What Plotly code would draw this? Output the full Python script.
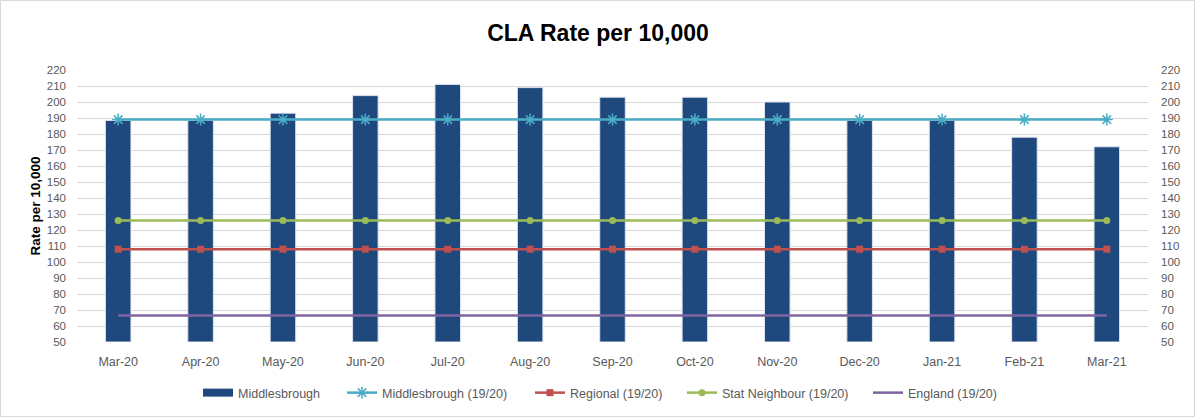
import plotly.graph_objects as go

months = ["Mar-20", "Apr-20", "May-20", "Jun-20", "Jul-20", "Aug-20", "Sep-20",
          "Oct-20", "Nov-20", "Dec-20", "Jan-21", "Feb-21", "Mar-21"]
middlesbrough = [188.5, 188.5, 193, 204, 211, 209, 203, 203, 200, 188.5, 188.5, 178, 172]
middlesbrough_1920 = [189] * 13
regional_1920 = [108] * 13
stat_neighbour_1920 = [126] * 13
england_1920 = [66.5] * 13

yticks = list(range(50, 221, 10))

font_fam = "Liberation Sans, Arial, sans-serif"
tick_col = "#595959"
BAR_COL = "#1f497d"

# plot area geometry (px)
L, R, T, B = 77, 48, 70, 76
W, H = 1196, 418
PW, PH = W - L - R, H - T - B

fig = go.Figure()
fig.add_trace(go.Bar(
    x=months, y=[v - 50 for v in middlesbrough], base=50, name="Middlesbrough",
    marker=dict(color=BAR_COL, line=dict(color="#dce3ee", width=1)),
    width=0.31, hovertext=[str(v) for v in middlesbrough], showlegend=False,
    legendgroup="mb"))
# legend proxy for the bar series (wide swatch like the original)
fig.add_trace(go.Scatter(
    x=[None], y=[None], name="Middlesbrough", mode="lines", legendgroup="mb",
    line=dict(color=BAR_COL, width=8), legend="legend"))
fig.add_trace(go.Scatter(
    x=months, y=middlesbrough_1920, name="Middlesbrough (19/20)", mode="lines+markers",
    line=dict(color="#4bacc6", width=2.5), legend="legend2",
    marker=dict(symbol="asterisk-open", size=10, line=dict(color="#4bacc6", width=1.5))))
fig.add_trace(go.Scatter(
    x=months, y=regional_1920, name="Regional (19/20)", mode="lines+markers",
    line=dict(color="#c0504d", width=2.5), legend="legend3",
    marker=dict(symbol="square", size=7, color="#c0504d")))
fig.add_trace(go.Scatter(
    x=months, y=stat_neighbour_1920, name="Stat Neighbour (19/20)", mode="lines+markers",
    line=dict(color="#9bbb59", width=2.5), legend="legend4",
    marker=dict(symbol="circle", size=7, color="#9bbb59")))
fig.add_trace(go.Scatter(
    x=months, y=england_1920, name="England (19/20)", mode="lines",
    line=dict(color="#8064a2", width=2.5), legend="legend5"))
# invisible trace to anchor the secondary (right) axis
fig.add_trace(go.Scatter(
    x=months, y=england_1920, yaxis="y2", mode="lines", showlegend=False,
    hoverinfo="skip", line=dict(color="rgba(0,0,0,0)")))

legend_starts = [203, 347, 535, 687, 873]
leg_y = -(393 - (T + PH)) / PH


def leg(px):
    return dict(orientation="h", x=(px - 5 - L) / PW, xanchor="left", y=leg_y,
                yanchor="middle", font=dict(size=12.5, color=tick_col),
                bgcolor="rgba(0,0,0,0)")


fig.update_layout(
    width=W, height=H,
    paper_bgcolor="white", plot_bgcolor="white",
    margin=dict(l=L, r=R, t=T, b=B, autoexpand=False),
    font=dict(family=font_fam, size=11, color=tick_col),
    title=dict(text="<b>CLA Rate per 10,000</b>", x=0.5, xanchor="center",
               y=1 - 33 / H, yanchor="middle",
               font=dict(family=font_fam, size=23, color="#000000")),
    showlegend=True,
    legend=leg(legend_starts[0]),
    legend2=leg(legend_starts[1]),
    legend3=leg(legend_starts[2]),
    legend4=leg(legend_starts[3]),
    legend5=leg(legend_starts[4]),
    xaxis=dict(type="category", range=[-0.5, len(months) - 0.5], showgrid=False,
               ticks="", showline=False, automargin=False, ticklabelstandoff=10,
               tickfont=dict(size=12.5, color=tick_col)),
    yaxis=dict(range=[50, 220], tickvals=yticks, showgrid=True, gridcolor="#d9d9d9",
               gridwidth=1, zeroline=False, showline=False, automargin=False,
               ticklabelstandoff=10,
               tickfont=dict(size=11.5, color=tick_col),
               title=dict(text="<b>Rate per 10,000</b>", font=dict(size=13.5, color="#000000"),
                          standoff=3)),
    yaxis2=dict(range=[50, 220], tickvals=yticks, overlaying="y", side="right",
                showgrid=False, zeroline=False, showline=False, automargin=False,
                ticklabelstandoff=12,
                tickfont=dict(size=11.5, color=tick_col)),
    shapes=[dict(type="rect", xref="paper", yref="paper",
                 x0=-(L - 0.5) / PW, x1=1 + (R - 1.5) / PW,
                 y0=-(B - 1.5) / PH, y1=1 + (T - 0.5) / PH,
                 line=dict(color="#d9d9d9", width=1), fillcolor="rgba(0,0,0,0)",
                 layer="below")],
)

fig.write_html("out.html", config={"displayModeBar": False},
               post_script="document.body.style.margin='0px';")
